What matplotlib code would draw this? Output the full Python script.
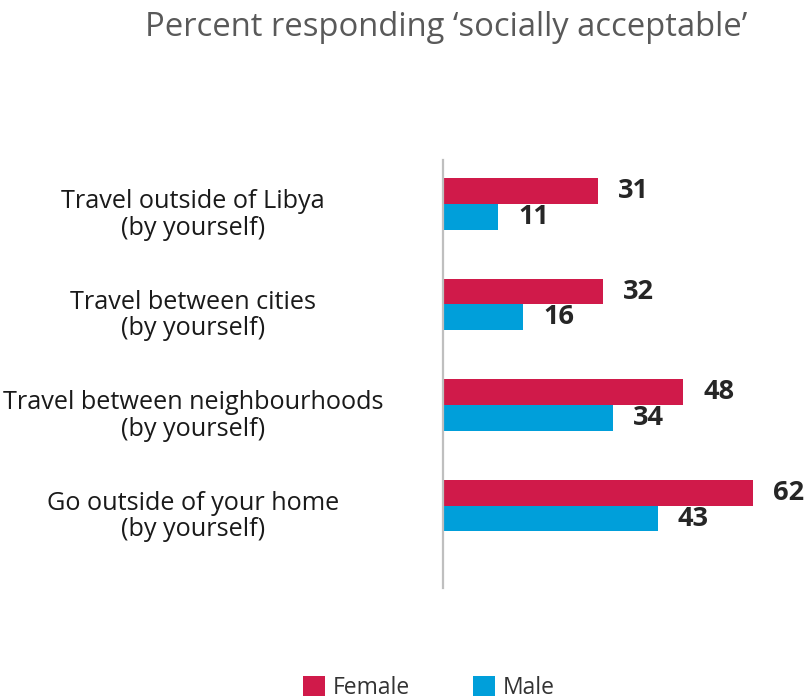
import matplotlib
matplotlib.use("Agg")
import matplotlib.pyplot as plt
import numpy as np

categories = [
    "Travel outside of Libya",
    "Travel between cities",
    "Travel between neighbourhoods",
    "Go outside of your home",
]
subtitle = "(by yourself)"
female = [31, 32, 48, 62]
male = [11, 16, 34, 43]
series_names = ["Female", "Male"]
title = "Percent responding \u2018socially acceptable\u2019"

FEMALE_COLOR = "#D01A4A"
MALE_COLOR = "#009FDA"
FONT = "Open Sans"

W, H = 807, 697
fig = plt.figure(figsize=(W / 100, H / 100), dpi=100)
ax = fig.add_axes([443 / W, 1 - 588 / H, 360 / W, 428 / H])

y = np.arange(len(categories))
bh = 0.258
bf = ax.barh(y - bh / 2, female, height=bh, color=FEMALE_COLOR, label=series_names[0])
bm = ax.barh(y + bh / 2, male, height=bh, color=MALE_COLOR, label=series_names[1])

ax.set_xlim(0, 72)
ax.set_ylim(3.82, -0.437)

for s in ["top", "right", "bottom"]:
    ax.spines[s].set_visible(False)
ax.spines["left"].set_color("#BFBFBF")
ax.spines["left"].set_linewidth(1.6)
ax.set_xticks([])
ax.set_yticks([])

for bars, vals in ((bf, female), (bm, male)):
    for rect, v in zip(bars, vals):
        ax.annotate(str(v), (v, rect.get_y() + rect.get_height() / 2),
                    xytext=(20, 0), textcoords="offset pixels",
                    ha="left", va="center", fontsize=19.5, fontweight="bold",
                    color="#262626", family=FONT)

# category labels, two lines each, centred in the left margin
for yi, cat in zip(y, categories):
    ax.annotate(cat + "\n" + subtitle, (0, yi), xycoords=("axes fraction", "data"),
                xytext=(-250, -11), textcoords="offset pixels",
                ha="center", va="center", multialignment="center",
                linespacing=1.08, fontsize=18.2, color="#1A1A1A", family=FONT)

fig.text(446 / W, 1 - 27 / H, title, ha="center", va="center",
         fontsize=23.6, color="#595959", family=FONT)

fig.legend(handles=[bf, bm], loc="upper left", bbox_to_anchor=(282 / W, 1 - 655 / H),
           ncol=2, frameon=False, handlelength=0.96, handleheight=0.96,
           handletextpad=0.35, columnspacing=2.75,
           prop={"family": FONT, "size": 16.5}, labelcolor="#333333")

fig.savefig("out.png", dpi=100)
